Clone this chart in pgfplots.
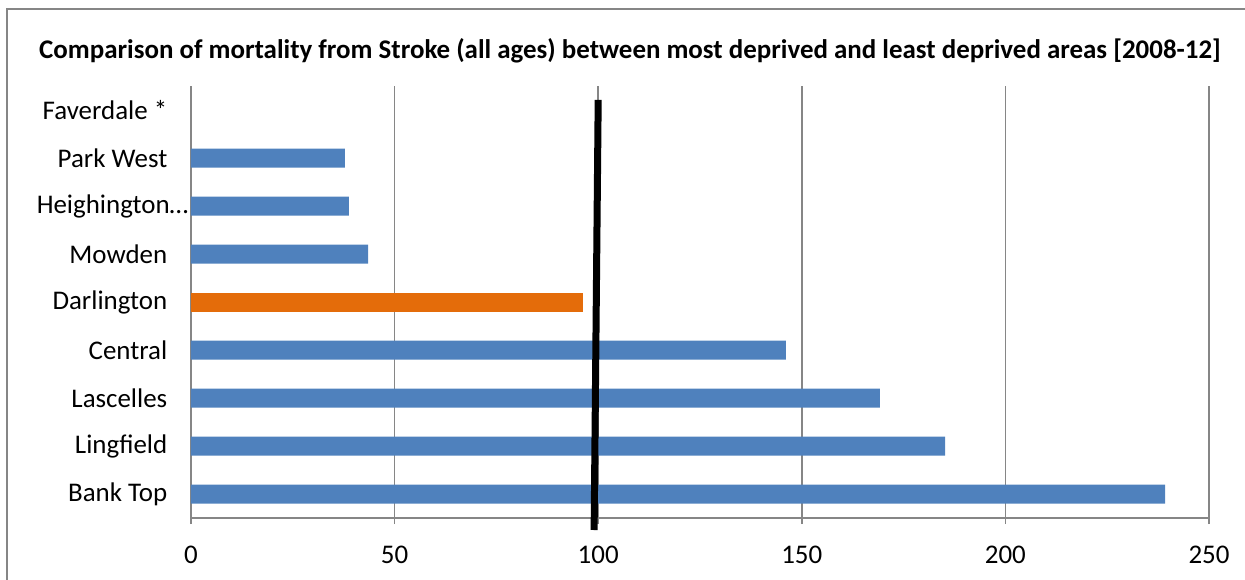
\documentclass[border=0pt]{standalone}
\usepackage{pgfplots}
\pgfplotsset{compat=1.18}
\usepackage{fontspec}
\setmainfont{Carlito}
\definecolor{barblue}{HTML}{4F81BD}
\definecolor{barorange}{HTML}{E46C0A}
\definecolor{gridgray}{HTML}{868686}
\begin{document}
\begin{tikzpicture}[x=0.75pt,y=0.75pt]
\useasboundingbox (-191,-61) rectangle (1054,518);
\draw[gridgray, line width=1.2pt] (-184,-70) -- (-184,509) -- (1060,509);
\begin{axis}[
  at={(0,0)}, anchor=south west,
  scale only axis,
  width=763.5pt, height=324pt,
  xmin=0, xmax=250,
  ymin=-0.5, ymax=8.5,
  xtick={0,50,...,250},
  ytick={0,...,8},
  yticklabels={Bank Top,Lingfield,Lascelles,Central,Darlington,Mowden,{Heighington\ldots\hspace*{-15.75pt}},Park West,Faverdale *},
  ytick style={draw=none},
  extra y ticks={-0.5,0.5,...,8.5},
  extra y tick labels={},
  extra y tick style={draw=gridgray, major tick length=4.5pt, tick align=outside, grid=none, line width=1.3pt},
  xmajorgrids,
  grid style={gridgray, line width=1.3pt},
  axis x line*=bottom, axis y line*=left,
  axis line style={gridgray, line width=1.3pt, -},
  x tick style={gridgray, line width=1.3pt},
  major tick length=4.5pt,
  tick align=outside,
  tick label style={font=\fontsize{20.2}{24}\selectfont, black},
  /pgf/number format/assume math mode=true,
  yticklabel style={xshift=-9.75pt},
  xticklabel style={yshift=-13pt},
  clip=false,
]
\addplot[xbar, bar width=14.25pt, fill=barblue, draw=none, bar shift=0pt]
  coordinates {(239.2,0) (185.2,1) (169.2,2) (146.1,3) (43.5,5) (38.8,6) (37.8,7)};
\addplot[xbar, bar width=14.25pt, fill=barorange, draw=none, bar shift=0pt]
  coordinates {(96.3,4)};
\addplot[black, line width=5.25pt, line cap=butt] coordinates {(99,-0.75) (100,8.21)};
\end{axis}
\node[font=\fontsize{20.2}{24}\selectfont\bfseries] at (439,467) {Comparison of mortality from Stroke (all ages) between most deprived and least deprived areas [2008-12]};
\end{tikzpicture}
\end{document}
